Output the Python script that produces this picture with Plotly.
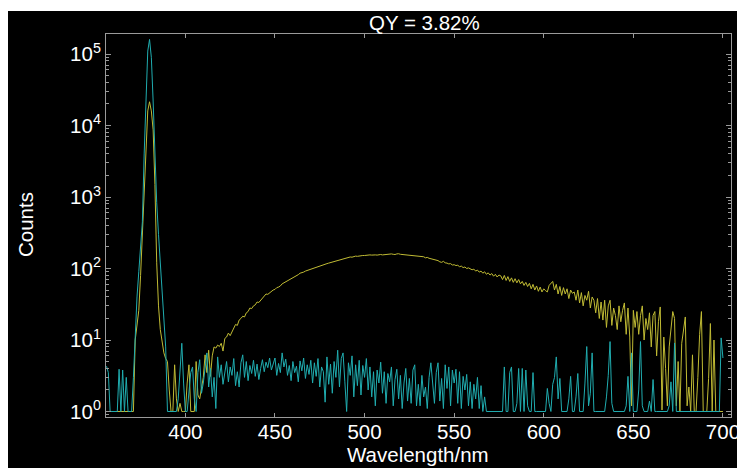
import plotly.graph_objects as go

wavelength = list(range(356, 701))

# Sample (yellow) counts, 356..700 nm
sample_counts = [
    1, 1, 1, 1, 1, 1, 1, 1, 1, 1, 1, 1, 1, 1, 1, 1,            # 356-371
    10, 18, 26, 80, 300, 1500, 6000, 16000, 21500, 16000,       # 372-381
    8700, 1500, 120, 30, 14, 9, 6.6, 5.5, 5, 2,                 # 382-391
    1, 1, 4.5, 1.5, 1, 1.3, 1, 1, 1, 2.5,                       # 392-401
    4.5, 1, 1, 1, 5, 1.7, 1.5, 2.2, 3, 6.2,                     # 402-411
    3.5, 7.2, 3.1, 6, 8, 7.7, 8.5, 8.1, 9, 7,                   # 412-421
    10.5, 11, 12.5, 11.5, 13, 14, 16.5, 16, 19, 20,             # 422-431
    21.5, 21, 24, 25, 28, 27.5, 30, 31, 34, 33.5,               # 432-441
    36, 38, 41, 44, 43.5, 46, 48, 50, 51, 54,                   # 442-451
    55, 57, 61, 63, 65, 66, 70, 72, 74, 77,                     # 452-461
    79, 82, 86, 87, 89, 92, 94, 96, 98, 101,                    # 462-471
    103, 104, 107, 110, 110, 113, 116, 117, 119, 121,           # 472-481
    123, 125, 128, 129, 132, 134, 136, 138, 141, 142,           # 482-491
    145, 144, 147, 149, 148, 150, 151, 152, 152, 154,           # 492-501
    153, 155, 154, 156, 155, 154, 156, 157, 155, 156,           # 502-511
    158, 157, 159, 160, 158, 157, 160, 161, 158, 157,           # 512-521
    156, 157, 154, 153, 152, 153, 150, 149, 147, 148,           # 522-531
    145, 146, 141, 143, 139, 137, 135, 136, 131, 129,           # 532-541
    124, 122, 126, 120, 119, 116, 117, 112, 113, 110,           # 542-551
    111, 106, 108, 103, 105, 100, 102, 100, 96, 98,             # 552-561
    92, 95, 89, 92, 86, 90, 83, 87, 81, 85,                     # 562-571
    78, 83, 76, 81, 79, 70, 80, 68, 77, 66,                     # 572-581
    74, 64, 72, 63, 70, 61, 66, 58, 64, 56,                     # 582-591
    62, 52, 60, 50, 57, 48, 55, 47, 52, 49,                     # 592-601
    47, 58, 63, 66, 50, 60, 44, 56, 42, 54,                     # 602-611
    44, 52, 38, 50, 45, 47, 36, 50, 33, 46,                     # 612-621
    30, 42, 36, 48, 28, 40, 36, 24, 38, 20,                     # 622-631
    34, 19, 36, 15, 30, 36, 16, 28, 22, 14,                     # 632-641
    30, 18, 26, 33, 12, 28, 11, 1.2, 26, 15,                    # 642-651
    25, 12, 22, 30, 10, 20, 14, 24, 8, 22,                      # 652-661
    25, 6, 18, 29, 1.05, 11, 4, 1.2, 8, 16,                     # 662-671
    25, 20, 1.2, 5, 1, 9, 15, 21, 1.2, 2.2,                     # 672-681
    1, 6.2, 1, 1, 3, 12, 25, 1, 1, 1,                           # 682-691
    2.9, 17, 1, 10, 1, 1, 1, 1, 1,                              # 692-700
]

# Blank / excitation (cyan) counts, 356..700 nm
blank_counts = [
    4.3, 3.5, 1, 1, 1, 1, 1, 3.9, 1, 3.8,                       # 356-365
    1, 3, 1, 1, 1, 3, 15, 40, 90, 200,                          # 366-375
    450, 4000, 30000, 110000, 160000, 90000, 22000, 3500, 830, 300,  # 376-385
    120, 50, 20, 8, 1, 1, 1, 1, 1, 1,                           # 386-395
    1.5, 4, 9, 2.5, 1, 1, 2, 3.5, 4.2, 1.5,                     # 396-405
    1, 3.5, 5.3, 1.8, 2.5, 4.5, 6.6, 2.2, 4, 1.6,               # 406-415
    3, 1.1, 5.8, 3, 4.5, 2.4, 3.8, 5, 2.6, 4.2,                 # 416-425
    3.2, 5.5, 2.3, 3.6, 2.2, 4.8, 6.2, 3, 5, 2.7,               # 426-435
    4.4, 3.4, 5.2, 3.1, 4.6, 2.8, 4, 5.3, 3.6, 4.9,             # 436-445
    4.1, 5.6, 3.8, 4.6, 5.6, 3.2, 4.7, 3.5, 6.6, 4.2,           # 446-455
    5.4, 3.2, 4.4, 2.7, 5, 3.5, 4.3, 2.6, 5.1, 3.7,             # 456-465
    5.6, 2.9, 4.5, 3.3, 5.2, 2.5, 4.8, 3.1, 5.5, 2.2,           # 466-475
    4.2, 3.6, 1.35, 5.8, 2.4, 4.6, 1.8, 5, 3, 7.2,              # 476-485
    2.2, 5.5, 6.6, 2.6, 1, 4.8, 3.2, 6, 1.6, 4.5,               # 486-495
    2.3, 5.2, 1.7, 4.4, 3, 5.5, 2, 4.2, 1.6, 3.6,               # 496-505
    1.2, 3.8, 2.5, 4.9, 1.8, 3.6, 1.3, 3.4, 2.6, 4.2,           # 506-515
    1.2, 2.8, 3.9, 1.5, 3.2, 1.1, 2.5, 4, 1.4, 2.9,             # 516-525
    1.3, 3.8, 4.5, 1.2, 2.4, 1.2, 3.2, 1.6, 2.2, 1.1,           # 526-535
    3, 4.8, 2.2, 1.3, 3.5, 4.8, 1.4, 2.9, 1.1, 4.5,             # 536-545
    2.1, 4.2, 1.2, 3.8, 2.5, 3.9, 1.3, 3.6, 1.1, 3.1,           # 546-555
    2, 3.3, 1.2, 2.6, 1.1, 2.4, 1.5, 3, 1.1, 2.3,               # 556-565
    1, 1.6, 1, 1, 1, 1, 1, 1, 1, 1,                             # 566-575
    1, 1, 4.2, 1, 1, 3.5, 4.2, 1, 1, 1.3,                       # 576-585
    4, 1, 4, 1, 3.8, 1.2, 1, 1, 3.5, 1,                         # 586-595
    1, 1, 1, 1, 1, 1, 2.1, 1.3, 1, 2.4,                         # 596-605
    3, 5.8, 1.5, 2.9, 1, 1, 1, 1, 1.5, 3.1,                     # 606-615
    1, 1, 1.6, 3.4, 1, 1, 1, 2.5, 8.1, 1.2,                     # 616-625
    1.8, 6.6, 1, 1, 1, 1, 1, 1, 1, 1.6,                         # 626-635
    3.2, 9.5, 1.3, 1, 1, 1, 1, 1, 1, 1,                         # 636-645
    1.2, 3.1, 1, 6.6, 1, 1, 1, 2, 9.5, 1.2,                     # 646-655
    1, 1, 1, 1.4, 1, 2.8, 1, 1, 1, 1,                           # 656-665
    1, 1, 1, 1, 1.2, 2.6, 1, 9.1, 1, 1,                         # 666-675
    1, 1, 1, 1, 1, 1, 1, 1, 1, 1,                               # 676-685
    1, 1, 1, 1, 1, 1, 1, 1, 1, 1,                               # 686-695
    1, 1, 1, 10.7, 5.6,                                         # 696-700
]

x_ticks = [400, 450, 500, 550, 600, 650, 700]
y_ticks = [1, 10, 100, 1000, 10000, 100000]
y_tick_text = ["10<sup>0</sup>", "10<sup>1</sup>", "10<sup>2</sup>",
               "10<sup>3</sup>", "10<sup>4</sup>", "10<sup>5</sup>"]

title_text = "QY = 3.82%"
x_title = "Wavelength/nm"
y_title = "Counts"

W, H = 737, 468
L, R, T, B = 106, 6, 34, 51
pw, ph = W - L - R, H - T - B
FS = 20.5

def px_x(p):
    return (p - L) / pw

def px_y(p):
    return (H - B - p) / ph

fig = go.Figure()
fig.add_trace(go.Scatter(x=wavelength, y=sample_counts, mode="lines",
                         line=dict(color="#c0bb34", width=1), name="sample"))
fig.add_trace(go.Scatter(x=wavelength, y=blank_counts, mode="lines",
                         line=dict(color="#20adb0", width=1), name="blank"))

axis_col = "#9a9a9a"
font_fam = "Liberation Sans, Arial, sans-serif"

fig.update_layout(
    width=W, height=H,
    margin=dict(l=L, r=R, t=T, b=B, pad=0, autoexpand=False),
    paper_bgcolor="black",
    plot_bgcolor="black",
    showlegend=False,
    font=dict(family=font_fam, color="white", size=FS),
    xaxis=dict(
        range=[355.7, 704.5], tickmode="array", tickvals=x_ticks,
        showgrid=False, zeroline=False, automargin=False,
        showline=True, linecolor=axis_col, linewidth=1, mirror="ticks",
        ticks="inside", ticklen=4, tickcolor=axis_col, tickwidth=1,
        ticklabeloverflow="allow", ticklabelstandoff=-4,
        tickfont=dict(size=FS, color="white", family=font_fam),
    ),
    yaxis=dict(
        type="log", range=[-0.077, 5.28],
        tickmode="array", tickvals=y_ticks, ticktext=y_tick_text,
        showgrid=False, zeroline=False, automargin=False,
        showline=True, linecolor=axis_col, linewidth=1, mirror="ticks",
        ticks="inside", ticklen=5, tickcolor=axis_col, tickwidth=1,
        tickfont=dict(size=FS, color="white", family=font_fam),
        minor=dict(ticks="inside", ticklen=3, tickcolor=axis_col, dtick="D1", showgrid=False),
    ),
    shapes=[
        dict(type="rect", xref="paper", yref="paper", layer="below",
             x0=px_x(-5), x1=px_x(W + 5), y0=px_y(11), y1=px_y(-5),
             fillcolor="white", line=dict(width=0)),
        dict(type="rect", xref="paper", yref="paper", layer="below",
             x0=px_x(-5), x1=px_x(8), y0=px_y(H + 5), y1=px_y(-5),
             fillcolor="white", line=dict(width=0)),
    ],
    annotations=[
        dict(text=title_text, xref="paper", yref="paper", x=px_x(424), y=px_y(23),
             xanchor="center", yanchor="middle", showarrow=False,
             font=dict(size=FS, color="white", family=font_fam)),
        dict(text=x_title, xref="paper", yref="paper", x=px_x(418), y=px_y(454),
             xanchor="center", yanchor="middle", showarrow=False,
             font=dict(size=FS, color="white", family=font_fam)),
        dict(text=y_title, xref="paper", yref="paper", x=px_x(25), y=px_y(225),
             xanchor="center", yanchor="middle", showarrow=False, textangle=-90,
             font=dict(size=FS, color="white", family=font_fam)),
    ],
)

fig.write_html(
    "out.html",
    post_script="document.documentElement.style.overflow='hidden';"
                "document.body.style.overflow='hidden';document.body.style.margin='0';",
)
